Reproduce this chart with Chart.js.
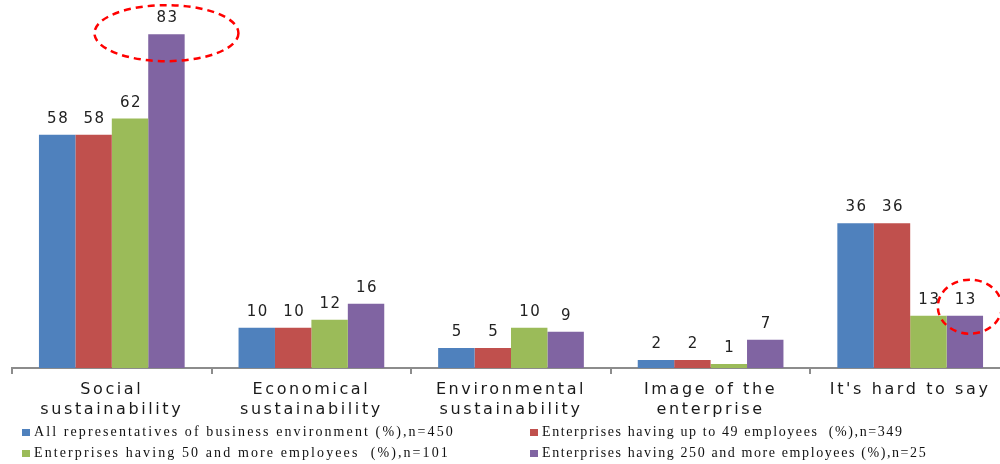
<!DOCTYPE html>
<html>
<head>
<meta charset="utf-8">
<script src="https://cdn.jsdelivr.net/npm/chart.js@4.4.1/dist/chart.umd.min.js"></script>
<style>
  html, body { margin: 0; padding: 0; background: #fff; overflow: hidden; }
  #wrap { width: 1010px; height: 464px; }
</style>
</head>
<body>
<div id="wrap"><canvas id="chart" width="1010" height="464"></canvas></div>
<script>
let categories = [
    ["Social", "sustainability"],
    ["Economical", "sustainability"],
    ["Environmental", "sustainability"],
    ["Image of the", "enterprise"],
    "It's hard to say"
];
let allReps = [58, 10, 5, 2, 36];
let upTo49 = [58, 10, 5, 2, 36];
let from50 = [62, 12, 10, 1, 13];
let from250 = [83, 16, 9, 7, 13];
let seriesNames = [
    "All representatives of business environment (%),n=450",
    "Enterprises having up to 49 employees  (%),n=349",
    "Enterprises having 50 and more employees  (%),n=101",
    "Enterprises having 250 and more employees (%),n=25"
];
let colors = ["#4f81bd", "#c0504d", "#9bbb59", "#8064a2"];

// bars to ring with a dashed ellipse: [dataset, index, dx, dy, rx, ry]
let highlights = [
    [3, 0, 0, -1, 72, 28],
    [3, 4, 5, -9, 32, 27]
];

let context = document.getElementById("chart").getContext("2d");

let labelPlugin = {
    id: "labels",
    beforeDraw(chart) {
        chart.ctx.letterSpacing = "2.6px";
    },
    afterDatasetsDraw(chart) {
        let ctx = chart.ctx;
        ctx.save();
        ctx.font = "15px 'DejaVu Sans'";
        ctx.fillStyle = "#222";
        ctx.textAlign = "center";
        ctx.textBaseline = "middle";
        ctx.letterSpacing = "1.5px";
        chart.data.datasets.forEach((ds, i) => {
            chart.getDatasetMeta(i).data.forEach((bar, j) => {
                ctx.fillText(String(ds.data[j]), bar.x + 1, bar.y - 16);
            });
        });
        ctx.restore();
    },
    afterDraw(chart) {
        let ctx = chart.ctx;
        ctx.save();
        // dashed rings
        ctx.strokeStyle = "#ff0000";
        ctx.lineWidth = 2.5;
        ctx.setLineDash([7, 5]);
        highlights.forEach(h => {
            let bar = chart.getDatasetMeta(h[0]).data[h[1]];
            ctx.beginPath();
            ctx.ellipse(bar.x + h[2], bar.y + h[3], h[4], h[5], 0, 0, Math.PI * 2);
            ctx.stroke();
        });
        ctx.setLineDash([]);
        // legend, two columns
        ctx.font = "14px 'Liberation Serif'";
        ctx.textBaseline = "middle";
        ctx.textAlign = "left";
        let cols = [22, 530];
        let spacing = ["2.1px", "1.6px"];
        let rows = [432, 453];
        chart.data.datasets.forEach((ds, i) => {
            let x = cols[i % 2];
            let y = rows[Math.floor(i / 2)];
            ctx.fillStyle = ds.backgroundColor;
            ctx.fillRect(x, y - 3, 8, 7);
            ctx.fillStyle = "#111";
            ctx.letterSpacing = spacing[i % 2];
            ctx.fillText(ds.label, x + 12, y);
        });
        ctx.restore();
    }
};

let chart = new Chart(context, {
    type: "bar",
    data: {
        labels: categories,
        datasets: [allReps, upTo49, from50, from250].map((d, i) => ({
            label: seriesNames[i],
            data: d,
            backgroundColor: colors[i],
            borderWidth: 0,
            categoryPercentage: 0.73,
            barPercentage: 1
        }))
    },
    options: {
        responsive: false,
        animation: false,
        layout: { padding: { top: 6, left: 12, right: 0, bottom: 38 } },
        plugins: {
            legend: { display: false },
            tooltip: { enabled: false }
        },
        scales: {
            x: {
                grid: {
                    display: true,
                    drawOnChartArea: false,
                    offset: true,
                    tickLength: 6,
                    color: "#8c8c8c",
                    lineWidth: 2
                },
                border: { color: "#8c8c8c", width: 2 },
                ticks: {
                    color: "#1a1a1a",
                    font: { family: "'DejaVu Sans'", size: 16, lineHeight: 1.25 },
                    padding: 6,
                    maxRotation: 0,
                    autoSkip: false
                }
            },
            y: {
                display: false,
                min: 0,
                max: 90
            }
        }
    },
    plugins: [labelPlugin]
});
</script>
</body>
</html>
